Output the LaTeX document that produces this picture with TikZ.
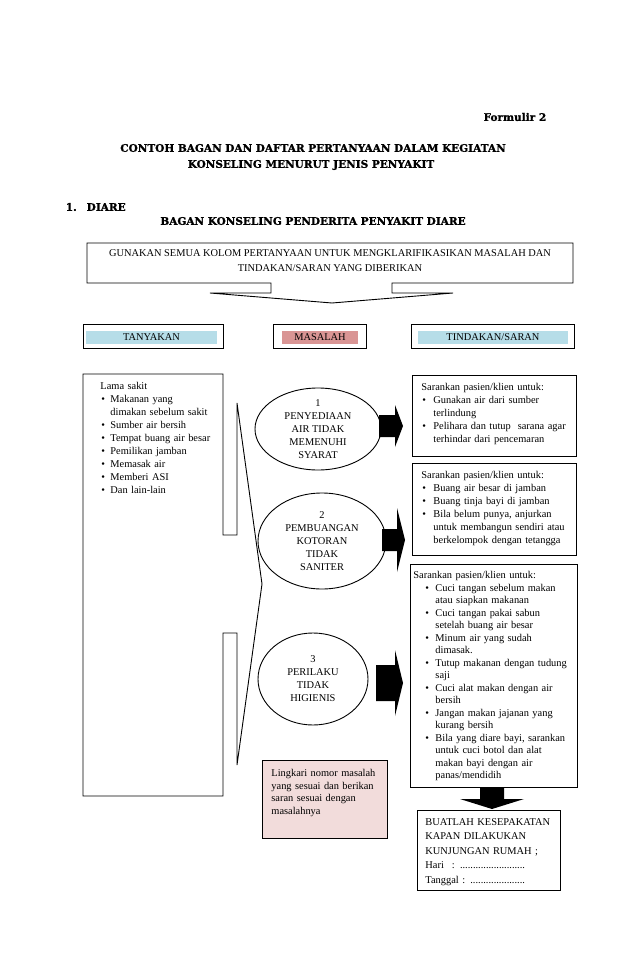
\documentclass[tikz,border=0pt]{standalone}
\usepackage{fontspec}
\setmainfont{Liberation Serif}
\newfontfamily\headfont{DejaVu Serif}[BoldFeatures={FakeBold=1.2}]
\setlength{\parskip}{0pt}

\definecolor{askblue}{HTML}{B6DDE8}
\definecolor{probred}{HTML}{D99594}
\definecolor{notepink}{HTML}{F2DCDB}

% bullet item: #1 bullet offset, #2 text indent, #3 text (\newline for breaks)
\newcommand{\bul}[3]{\par\noindent\hangindent=#2\hangafter=1\makebox[#2][l]{\hspace*{#1}\textbullet}#3\par}

\begin{document}
\begin{tikzpicture}[x=1pt, y=-1pt, line width=0.9pt,
  bodytxt/.style={font=\fontsize{10.4}{#1}\selectfont},
  bodytxt/.default=13,
  headtxt/.style={font=\headfont\bfseries\fontsize{10.5}{13}\selectfont},
  txtbox/.style={bodytxt, anchor=north west, inner sep=0pt, align=left, text width=#1},
  probtxt/.style={bodytxt, align=center, inner sep=0pt}]

  \useasboundingbox (0,0) rectangle (638,976);

  % Headings
  \node[headtxt, anchor=east] (form) at (550,117) {Formulir 2};
  \node[headtxt] (title) at (313,148) {CONTOH BAGAN DAN DAFTAR PERTANYAAN DALAM KEGIATAN};
  \node[headtxt] (subtitle) at (311,165) {KONSELING MENURUT JENIS PENYAKIT};
  \node[headtxt, anchor=west] (section) at (62,207) {1.\hspace{10pt}DIARE};
  \node[headtxt] (chart) at (313,221) {BAGAN KONSELING PENDERITA PENYAKIT DIARE};

  % Instruction callout
  \draw (87,243) -- (573,243) -- (573,283) -- (392,283) -- (392,293) -- (453,293)
    -- (332,303) -- (210,293) -- (271,293) -- (271,283) -- (87,283) -- cycle;
  \node[bodytxt=15, align=center, inner sep=0pt] (guide) at (330,260.5)
    {GUNAKAN SEMUA KOLOM PERTANYAAN UNTUK MENGKLARIFIKASIKAN MASALAH DAN\\TINDAKAN/SARAN YANG DIBERIKAN};

  % Column headers
  \foreach \id/\xa/\xb/\fa/\fb/\col/\txt in {ask/83/223/86/217/askblue/TANYAKAN,
      prob/273/366/282/358/probred/MASALAH, act/411/574/418/568/askblue/TINDAKAN\slash SARAN} {
    \draw (\xa,324) rectangle (\xb,348);
    \fill[\col] (\fa,331) rectangle (\fb,344);
    \node[bodytxt, inner sep=0pt] (\id) at ({(\fa+\fb)/2},337.5) {\txt};
  }

  % Question callout
  \draw (83,374) -- (223,374) -- (223,535) -- (237,535) -- (237,403) -- (262,584)
    -- (237,765) -- (237,633) -- (223,633) -- (223,796) -- (83,796) -- cycle;
  \node[txtbox=150] (questions) at (100,382) {Lama sakit
    \bul{1pt}{10pt}{Makanan yang\newline dimakan sebelum sakit}
    \bul{1pt}{10pt}{Sumber air bersih}
    \bul{1pt}{10pt}{Tempat buang air besar}
    \bul{1pt}{10pt}{Pemilikan jamban}
    \bul{1pt}{10pt}{Memasak air}
    \bul{1pt}{10pt}{Memberi ASI}
    \bul{1pt}{10pt}{Dan lain-lain}};

  % Problems
  \node[probtxt] (p1) at (318,429) {1\\PENYEDIAAN\\AIR TIDAK\\MEMENUHI\\SYARAT};
  \draw (p1.center) ellipse (63 and 41);
  \node[probtxt] (p2) at (322,541) {2\\PEMBUANGAN\\KOTORAN\\TIDAK\\SANITER};
  \draw (p2.center) ellipse (64 and 48);
  \node[probtxt] (p3) at (313,679) {3\\PERILAKU\\TIDAK\\HIGIENIS};
  \draw (p3.center) ellipse (55 and 46);

  % Block arrows
  \foreach \xl/\xb/\xt/\yc/\bh/\hh in {379/395/403/426/11/21, 382/397/405/540/11/32, 376/395/403/683/18/33}
    \fill (\xl,\yc-\bh) -- (\xb,\yc-\bh) -- (\xb,\yc-\hh) -- (\xt,\yc) -- (\xb,\yc+\hh)
      -- (\xb,\yc+\bh) -- (\xl,\yc+\bh) -- cycle;

  % Advice boxes
  \draw (412,375) rectangle (576,456);
  \node[txtbox=160] (advice1) at (421,383) {Sarankan pasien/klien untuk:
    \bul{1pt}{12pt}{Gunakan air dari sumber\newline terlindung}
    \bul{1pt}{12pt}{Pelihara dan tutup\ \ sarana agar\newline terhindar dari pencemaran}};
  \draw (412,463) rectangle (576,555);
  \node[txtbox=160] (advice2) at (421,471) {Sarankan pasien/klien untuk:
    \bul{1pt}{12pt}{Buang air besar di jamban}
    \bul{1pt}{12pt}{Buang tinja bayi di jamban}
    \bul{1pt}{12pt}{Bila belum punya, anjurkan\newline untuk membangun sendiri atau\newline berkelompok dengan tetangga}};
  \draw (410,564) rectangle (577,787);
  \node[txtbox=165, bodytxt=12.5] (advice3) at (413,571) {Sarankan pasien/klien untuk:
    \bul{12pt}{22pt}{Cuci tangan sebelum makan\newline atau siapkan makanan}
    \bul{12pt}{22pt}{Cuci tangan pakai sabun\newline setelah buang air besar}
    \bul{12pt}{22pt}{Minum air yang sudah\newline dimasak.}
    \bul{12pt}{22pt}{Tutup makanan dengan tudung\newline saji}
    \bul{12pt}{22pt}{Cuci alat makan dengan air\newline bersih}
    \bul{12pt}{22pt}{Jangan makan jajanan yang\newline kurang bersih}
    \bul{12pt}{22pt}{Bila yang diare bayi, sarankan\newline untuk cuci botol dan alat\newline makan bayi dengan air\newline panas/mendidih}};

  % Note
  \draw[fill=notepink] (262,760) rectangle (387,838);
  \node[txtbox=120, bodytxt=12.5] (note) at (271,769)
    {Lingkari nomor masalah\\yang sesuai dan berikan\\saran sesuai dengan\\masalahnya};

  % Home visit
  \fill (480,787) -- (504,787) -- (504,799) -- (524,799) -- (492,809) -- (460,799) -- (480,799) -- cycle;
  \draw (417,810) rectangle (560,890);
  \node[txtbox=140, bodytxt=14.5] (visit) at (425,818)
    {BUATLAH KESEPAKATAN\\KAPAN DILAKUKAN\\KUNJUNGAN RUMAH ;\\Hari\hspace{8pt}: .........................\\Tanggal : .....................};
\end{tikzpicture}
\end{document}
